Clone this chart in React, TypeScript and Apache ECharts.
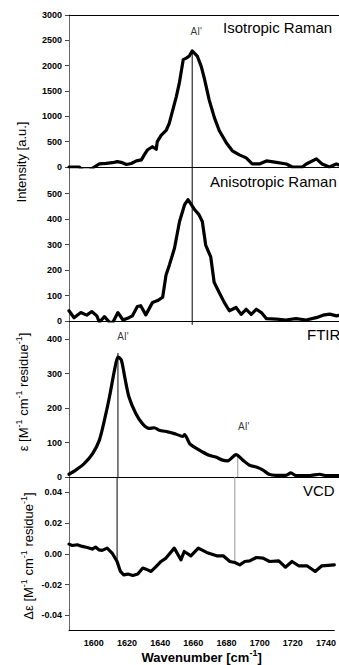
import React, { useEffect, useRef } from "react";
import * as echarts from "echarts";

// Wavenumber range and tick labels
const wnMin = 1585;
const wnMax = 1745;

// Isotropic Raman
const isoWn = [1585,1591,1593,1597,1600,1603,1607,1610.7,1613.6,1616.6,1619,1621.9,1624.9,1627.9,1629.6,1631.4,1634.4,1636.7,1637.3,1639.7,1642.7,1644.4,1648.6,1650.4,1652.7,1654.5,1656.3,1658,1661,1663.4,1665.2,1668.1,1671.1,1674,1678.2,1681.8,1686,1690,1693.6,1697.8,1702,1707.9,1713.8,1717.3,1720,1723.3,1725.6,1731.6,1735,1739.3,1743.4,1745];
const isoVal = [0,0,-60,-60,0,60,70,85,105,85,50,70,120,140,240,335,400,350,500,630,730,860,1390,1660,2120,2150,2190,2290,2190,1980,1750,1320,980,720,480,320,240,180,60,60,120,90,60,0,0,0,60,160,60,0,60,40];

// Anisotropic Raman
const anisoWn = [1585,1588,1592,1595.5,1598.5,1601.5,1603,1606,1609,1611,1614,1617,1620.5,1622.5,1625.5,1627.5,1630.5,1634.5,1637.5,1640.5,1642.5,1644.5,1647.5,1650.5,1653.5,1655.5,1657.5,1659.5,1662,1664,1666,1669,1671,1674,1677,1680,1684,1687,1690,1693,1696,1699,1702,1708,1713.5,1719.5,1725.5,1731.5,1735.5,1739.5,1743.5,1745];
const anisoVal = [40,13,33,23,37,20,-5,17,-5,-5,33,4,13,20,57,60,24,73,80,93,180,220,285,390,456,476,456,436,417,390,298,251,152,112,73,40,53,26,46,26,46,33,9,7,4,9,4,13,23,27,20,22];

// FTIR
const ftirWn = [1585,1589,1594,1599,1603,1606,1609,1612,1614,1616,1618,1620.5,1624.5,1628.5,1632.5,1635.5,1638.5,1643.5,1647.5,1652.5,1653.5,1656.5,1660.5,1664,1668,1672,1676,1679,1684,1688,1692,1696,1700,1703.5,1707.5,1713.5,1716.5,1719.5,1727.5,1733.5,1737.5,1745];
const ftirVal = [8,20,39,68,107,165,233,311,349,340,291,233,185,155,141,143,136,131,126,118,123,97,83,73,63,58,49,47,65,49,34,29,20,8,5,5,12,4,4,8,4,4];

// VCD
const vcdWn = [1585,1587,1590,1593,1596,1599,1601,1603,1605,1608,1611,1614,1616,1618,1620.5,1623.5,1626.5,1629.5,1631.5,1634.5,1637.5,1640.5,1643.5,1648.5,1652.5,1654.5,1658.5,1663,1668,1674,1678,1682,1685,1688,1691,1694,1698,1702,1706,1711.5,1715.5,1719.5,1723.5,1728.5,1733.5,1737.5,1745];
const vcdVal = [0.0063,0.0054,0.0059,0.0048,0.0041,0.0031,0.0044,0.0026,0.0022,0.0037,0.0005,-0.005,-0.0115,-0.0137,-0.0132,-0.0141,-0.0132,-0.0093,-0.01,-0.0115,-0.0083,-0.005,-0.0028,0.0037,-0.0039,0.0015,-0.0013,0.0037,0.0009,-0.0013,-0.0013,-0.005,-0.0057,-0.0072,-0.005,-0.0046,-0.0024,-0.0028,-0.005,-0.0046,-0.0087,-0.005,-0.0078,-0.0078,-0.0115,-0.0078,-0.0072];

// Band markers (AI')
const ramanBand = 1658;
const ramanBandTop = 2300;
const ftirBand1 = 1614;
const ftirBand1Top = 360;
const ftirBand2 = 1685;
const ftirBand2Top = 65;
const vcdBand1Bottom = -0.005;
const vcdBand2Bottom = -0.006;
const bandLabel = "AI'";

const panelTitles = ["Isotropic Raman", "Anisotropic Raman", "FTIR", "VCD"];

const zip = (xs: number[], ys: number[]) => xs.map((x, i) => [x, ys[i]]);

const FONT = "'Liberation Sans', Arial, sans-serif";

export default function App() {
  const ref = useRef<HTMLDivElement>(null);
  useEffect(() => {
    const chart = echarts.init(ref.current!, undefined, { renderer: "svg" });
    const grids = [
      { left: 69, top: 15, width: 270, height: 152 },
      { left: 69, top: 168, width: 270, height: 153 },
      { left: 69, top: 322, width: 270, height: 155 },
      { left: 69, top: 477, width: 270, height: 154 },
    ];
    const labelStyle = {
      margin: 7,
      color: "#000",
      fontFamily: FONT,
      fontWeight: "bold",
      fontSize: 9,
      formatter: (v: number) => String(v),
    };
    const baseX = (i: number) => ({
      type: "value",
      gridIndex: i,
      min: wnMin,
      max: wnMax,
      splitNumber: 8,
      axisLine: { show: true, onZero: false, lineStyle: { color: "#000", width: 1 } },
      axisTick: { show: false },
      axisLabel: { show: false },
      splitLine: { show: false },
    });
    const xAxes: any[] = [0, 1, 2, 3].map(baseX);
    xAxes[3] = {
      ...xAxes[3],
      axisLabel: {
        ...labelStyle,
        show: true,
        showMinLabel: false,
        showMaxLabel: false,
        margin: 8,
      },
      name: "{a|Wavenumber [cm}{s|-1}{a|]}",
      nameLocation: "middle",
      nameGap: 17,
      nameTextStyle: {
        rich: {
          a: { fontFamily: FONT, fontWeight: "bold", fontSize: 13, lineHeight: 18, color: "#000" },
          s: { fontFamily: FONT, fontWeight: "bold", fontSize: 9, lineHeight: 8, verticalAlign: "top", color: "#000" },
        },
      },
    };
    // top border of the first panel
    xAxes.push({
      type: "value",
      gridIndex: 0,
      position: "top",
      min: wnMin,
      max: wnMax,
      axisLine: { show: true, onZero: false, lineStyle: { color: "#000", width: 1 } },
      axisTick: { show: false },
      axisLabel: { show: false },
      splitLine: { show: false },
    });
    const baseY = (i: number, extra: any, label: any) => ({
      type: "value",
      gridIndex: i,
      axisLine: { show: true, onZero: false, lineStyle: { color: "#666", width: 1 } },
      axisTick: { show: true, length: 4, lineStyle: { color: "#444" } },
      splitLine: { show: false },
      axisLabel: { ...labelStyle, ...label },
      ...extra,
    });
    const yAxes = [
      baseY(0, { min: 0, max: 3000, interval: 500 }, {}),
      baseY(1, { min: 0, max: 600, interval: 100 }, { showMaxLabel: false }),
      baseY(2, { min: 0, max: 450, interval: 100 }, { showMaxLabel: false }),
      baseY(
        3,
        { min: -0.05, max: 0.05, splitNumber: 5 },
        { showMaxLabel: false, showMinLabel: false, formatter: (v: number) => v.toFixed(2) }
      ),
    ];

    const curve = (i: number, xs: number[], ys: number[], smooth = 0) => ({
      type: "line",
      xAxisIndex: i,
      yAxisIndex: i,
      data: zip(xs, ys),
      showSymbol: false,
      symbol: "none",
      smooth,
      clip: true,
      lineStyle: { color: "#000", width: 3.2, join: "round", cap: "round" },
      z: 3,
    });
    const vline = (i: number, x: number, y0: number, y1: number, color: string) => ({
      type: "line",
      xAxisIndex: i,
      yAxisIndex: i,
      data: [[x, y0], [x, y1]],
      symbol: "none",
      clip: false,
      lineStyle: { color, width: 1 },
      z: 2,
    });
    const bandTag = (i: number, x: number, y: number, dist: number, dx: number) => ({
      type: "scatter",
      xAxisIndex: i,
      yAxisIndex: i,
      data: [[x, y]],
      symbolSize: 0,
      itemStyle: { color: "rgba(0,0,0,0)" },
      label: {
        show: true,
        formatter: bandLabel,
        position: "top",
        distance: dist,
        offset: [dx, 0],
        color: "#000",
        fontFamily: FONT,
        fontSize: 10,
      },
      z: 4,
    });

    const rich = {
      a: { fontFamily: FONT, fontSize: 13, lineHeight: 18, color: "#000" },
      s: { fontFamily: FONT, fontSize: 9, lineHeight: 8, verticalAlign: "top", color: "#000" },
    };
    const titleText = (text: string, x: number, y: number) => ({
      type: "text",
      x,
      y,
      style: { text, font: `15px ${FONT}`, fill: "#000", verticalAlign: "middle", align: "left" },
    });

    chart.setOption({
      animation: false,
      grid: grids,
      xAxis: xAxes,
      yAxis: yAxes,
      series: [
        curve(0, isoWn, isoVal),
        curve(1, anisoWn, anisoVal),
        curve(2, ftirWn, ftirVal, 0.25),
        curve(3, vcdWn, vcdVal),
        vline(0, ramanBand, ramanBandTop, 0, "#000"),
        vline(1, ramanBand, 600, -15, "#000"),
        vline(2, ftirBand1, ftirBand1Top, 0, "#000"),
        vline(3, ftirBand1, 0.05, vcdBand1Bottom, "#000"),
        vline(2, ftirBand2, ftirBand2Top, 0, "#999"),
        vline(3, ftirBand2, 0.05, vcdBand2Bottom, "#999"),
        bandTag(0, ramanBand, ramanBandTop, 14, 4),
        bandTag(2, ftirBand1, ftirBand1Top, 12, 5),
        bandTag(2, ftirBand2, ftirBand2Top, 23, 6),
      ],
      graphic: [
        titleText(panelTitles[0], 223, 27),
        titleText(panelTitles[1], 210, 181),
        titleText(panelTitles[2], 307, 334),
        titleText(panelTitles[3], 303, 490),
        {
          type: "text",
          x: 21,
          y: 162,
          rotation: Math.PI / 2,
          style: { text: "Intensity [a.u.]", font: `13px ${FONT}`, fill: "#000", align: "center", verticalAlign: "middle" },
        },
        {
          type: "text",
          x: 23,
          y: 392,
          rotation: Math.PI / 2,
          style: {
            text: "{a|ε [M}{s|-1}{a| cm}{s|-1}{a| residue}{s|-1}{a|]}",
            rich,
            align: "center",
            verticalAlign: "middle",
          },
        },
        {
          type: "text",
          x: 28,
          y: 556,
          rotation: Math.PI / 2,
          style: {
            text: "{a|Δε [M}{s|-1}{a| cm}{s|-1}{a| residue}{s|-1}{a|]}",
            rich,
            align: "center",
            verticalAlign: "middle",
          },
        },
      ],
    });
    return () => chart.dispose();
  }, []);
  return (
    <div
      ref={ref}
      style={{ position: "absolute", left: 0, top: 0, width: 339, height: 665, background: "#fff" }}
    />
  );
}
